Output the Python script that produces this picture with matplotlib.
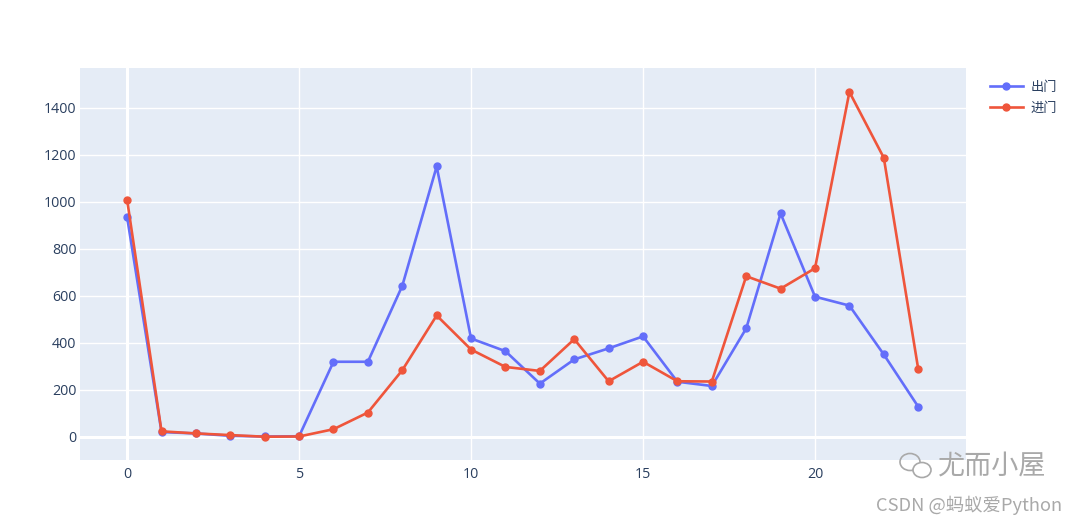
import matplotlib
matplotlib.use("Agg")
import matplotlib.pyplot as plt
from matplotlib.patches import Ellipse

hours = list(range(24))
out_counts = [935, 21, 15, 5, 2, 3, 320, 320, 643, 1151, 419, 365,
              227, 330, 377, 428, 235, 217, 462, 951, 597, 559, 351, 129]
in_counts = [1009, 24, 15, 8, 1, 2, 33, 104, 284, 517, 372, 298,
             281, 416, 237, 320, 237, 236, 684, 631, 718, 1468, 1188, 290]
series_names = ["出门", "进门"]
x_ticks = [0, 5, 10, 15, 20]
y_ticks = [0, 200, 400, 600, 800, 1000, 1200, 1400]

plt.rcParams['font.family'] = ['Open Sans', 'Noto Sans CJK SC', 'DejaVu Sans']

W, H = 1080, 523
fig = plt.figure(figsize=(W / 100, H / 100), dpi=100)
fig.patch.set_facecolor('white')
ax = fig.add_axes([80 / W, (H - 460) / H, 886 / W, 392 / H])
ax.set_facecolor('#E5ECF6')

ax.plot(hours, out_counts, color='#636efa', lw=1.9, marker='o', ms=5,
        label=series_names[0], zorder=3)
ax.plot(hours, in_counts, color='#EF553B', lw=1.9, marker='o', ms=5,
        label=series_names[1], zorder=3)

ax.set_xlim(-1.37, 24.39)
ax.set_ylim(-98, 1570)
ax.set_xticks(x_ticks)
ax.set_yticks(y_ticks)
ax.grid(True, color='white', lw=1.0, zorder=0)
ax.set_axisbelow(True)
ax.axhline(0, color='white', lw=2.2, zorder=1)
ax.axvline(0, color='white', lw=2.2, zorder=1)
for s in ax.spines.values():
    s.set_visible(False)
ax.tick_params(axis='both', length=0, colors='#2a3f5f', labelsize=10.3)
ax.tick_params(axis='y', pad=2.5)
ax.tick_params(axis='x', pad=5)

leg = fig.legend(loc='upper left', bbox_to_anchor=(990 / W, 1 - 81 / H),
                 bbox_transform=fig.transFigure, frameon=False,
                 borderaxespad=0, borderpad=0,
                 handlelength=2.5, handletextpad=0.6, labelspacing=0.58,
                 prop={'family': ['Noto Sans CJK SC', 'DejaVu Sans'], 'size': 9.5})
for t in leg.get_texts():
    t.set_color('#2a3f5f')

# watermark
wm = '#a9a9a9'
fig.text(938 / W, 1 - 467 / H, "尤而小屋", fontsize=19.5, color=wm,
         ha='left', va='center', family=['Noto Sans CJK SC', 'DejaVu Sans'])
fig.text(876 / W, 1 - 505 / H, "CSDN @蚂蚁爱Python", fontsize=13.2, color=wm,
         ha='left', va='center', family=['Noto Sans CJK SC', 'DejaVu Sans'])
fig.patches.append(Ellipse((910 / W, 1 - 462 / H), 20 / W, 17 / H,
                           transform=fig.transFigure, fill=False, ec=wm, lw=1.2))
fig.patches.append(Ellipse((922 / W, 1 - 470 / H), 18 / W, 15 / H,
                           transform=fig.transFigure, fc='white', ec=wm, lw=1.2))

fig.savefig('out.png', dpi=100)
